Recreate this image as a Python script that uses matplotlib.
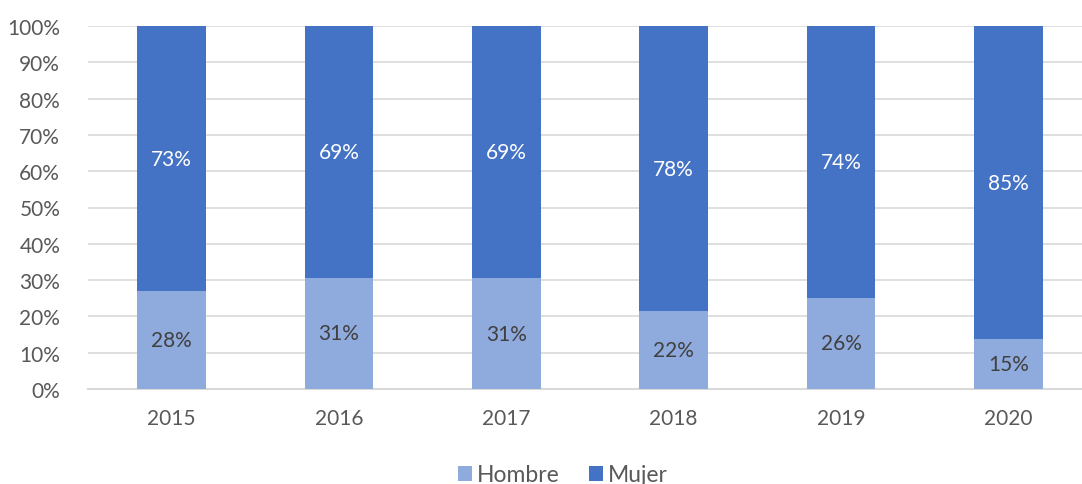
import numpy as np
import matplotlib.pyplot as plt
from matplotlib.ticker import PercentFormatter, MultipleLocator

years = ["2015", "2016", "2017", "2018", "2019", "2020"]
# shares as drawn (fraction of 100%)
hombre = [26.9, 30.6, 30.5, 21.4, 25.1, 13.7]
mujer = [100 - h for h in hombre]
# labels as printed on the chart
hombre_lbl = ["28%", "31%", "31%", "22%", "26%", "15%"]
mujer_lbl = ["73%", "69%", "69%", "78%", "74%", "85%"]

C_HOMBRE = "#8FAADC"
C_MUJER = "#4472C4"
GRID = "#D9D9D9"
TXT = "#595959"

plt.rcParams['font.family'] = ['Lato', 'DejaVu Sans']

fig = plt.figure(figsize=(10.82, 4.85), dpi=100)
ax = fig.add_axes([88/1082, 1 - 390/485, 1004/1082, 363/485])

x = np.arange(len(years))
w = 0.41
ax.bar(x, hombre, w, color=C_HOMBRE, label="Hombre", zorder=3)
ax.bar(x, mujer, w, bottom=hombre, color=C_MUJER, label="Mujer", zorder=3)

for i in range(len(years)):
    ax.text(x[i], hombre[i] / 2, hombre_lbl[i], ha='center', va='center',
            fontsize=15, color="#404040", zorder=4)
    ax.text(x[i], hombre[i] + mujer[i] / 2, mujer_lbl[i], ha='center', va='center',
            fontsize=15, color="white", zorder=4)

ax.set_xlim(-0.5, len(years) - 0.5)
ax.set_ylim(0, 100)
ax.yaxis.set_major_locator(MultipleLocator(10))
ax.yaxis.set_major_formatter(PercentFormatter(decimals=0))
ax.set_xticks(x)
ax.set_xticklabels(years)
ax.tick_params(axis='both', length=0, labelsize=15, colors=TXT)
ax.tick_params(axis='x', pad=14)
ax.tick_params(axis='y', pad=20)
ax.grid(axis='y', color=GRID, lw=1.2, zorder=0)
for s in ['top', 'right', 'left']:
    ax.spines[s].set_visible(False)
ax.spines['bottom'].set_color(GRID)
ax.spines['bottom'].set_linewidth(1.5)
ax.set_axisbelow(True)

fig.legend(loc='center', bbox_to_anchor=(563/1082, 1 - 476/485), ncol=2, frameon=False,
           fontsize=16.5, handlelength=0.6, handleheight=0.6, handletextpad=0.2,
           columnspacing=1.3, labelcolor=TXT)

fig.savefig("out.png", dpi=100)
